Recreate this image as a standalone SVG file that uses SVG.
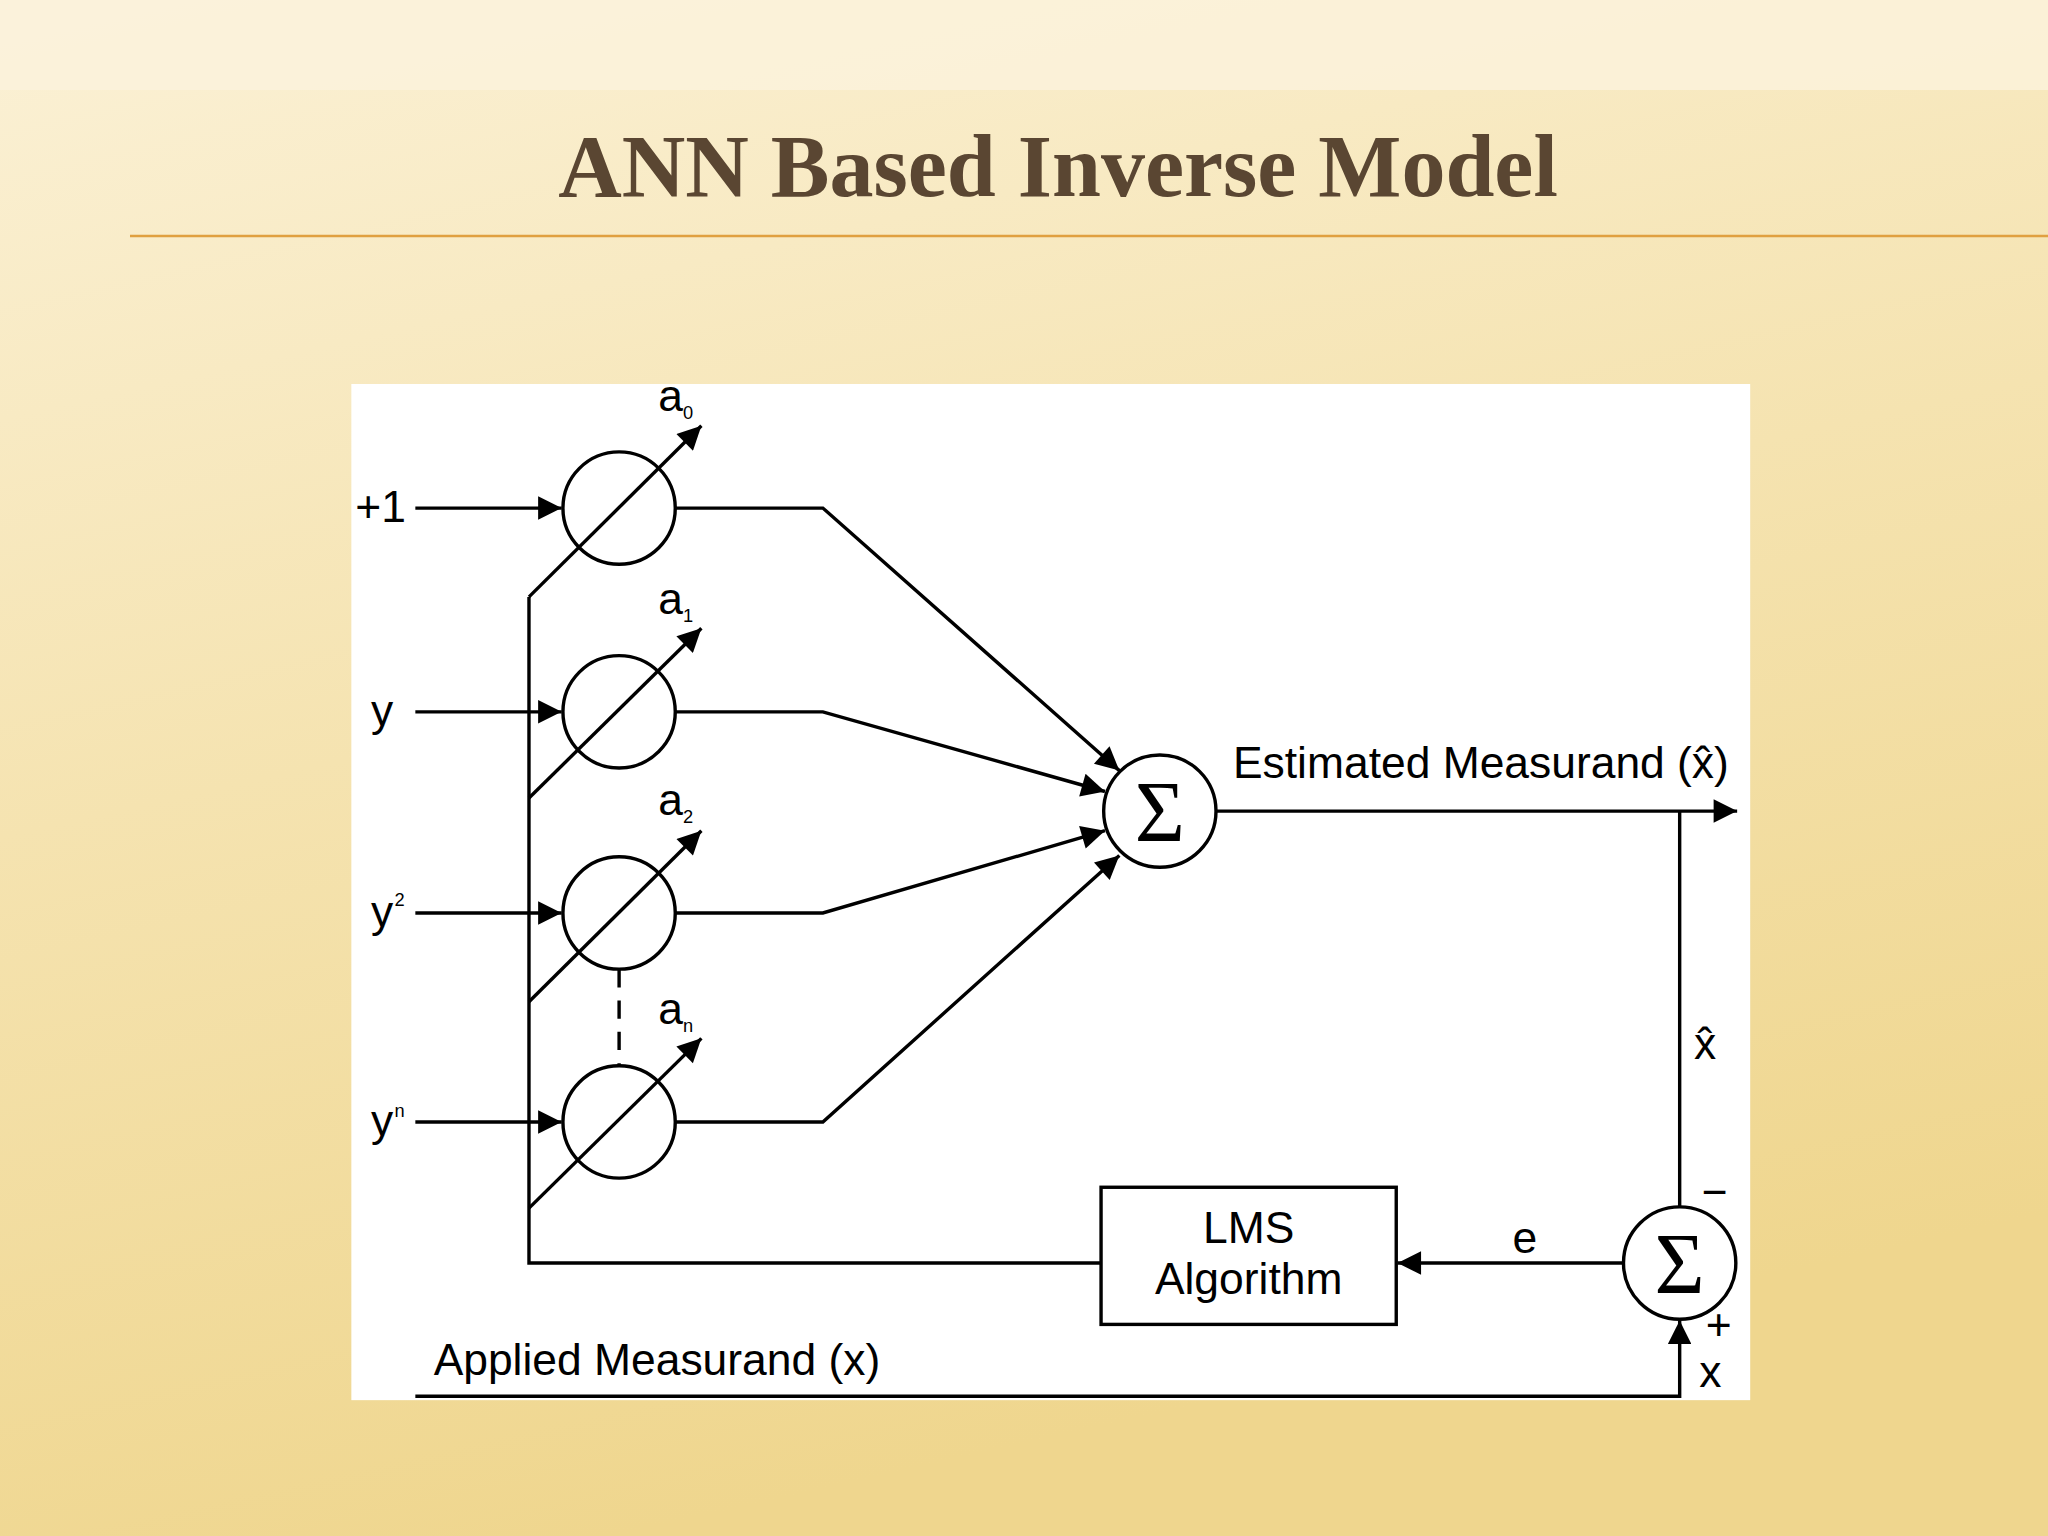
<svg xmlns="http://www.w3.org/2000/svg" width="2048" height="1536" viewBox="0 0 2048 1536">
<defs>
<linearGradient id="bg" x1="0" y1="0" x2="0.3" y2="1">
<stop offset="0" stop-color="#fbf1d6"/><stop offset="0.5" stop-color="#f5e3b0"/><stop offset="1" stop-color="#efd68e"/>
</linearGradient>
<marker id="ah2" viewBox="0 0 10 10" refX="10" refY="5" markerWidth="22" markerHeight="18" markerUnits="userSpaceOnUse" orient="auto"><path d="M0,0 L10,5 L0,10 Z" fill="#000"/></marker>
<style>
.l{stroke:#000;stroke-width:2.6;fill:none}
.c{stroke:#000;stroke-width:2.6;fill:#fff}
.t{font-family:"Liberation Sans",Arial,sans-serif;font-size:34px;fill:#000}
.s{font-family:"Liberation Sans",Arial,sans-serif;font-size:14px;fill:#000}
.sg{font-family:"Liberation Serif",serif;font-size:66px;fill:#000}
</style>
</defs>
<rect width="2048" height="1536" fill="url(#bg)"/>
<rect width="2048" height="90" fill="#fbf3dc" opacity="0.8"/>
<text x="1058" y="196" text-anchor="middle" font-family="Liberation Serif,serif" font-weight="bold" font-size="88" fill="#5a4632">ANN Based Inverse Model</text>
<line x1="130" y1="236" x2="2048" y2="236" stroke="#e0a040" stroke-width="2.5"/>
<g transform="scale(1.30612)">
<rect x="269" y="294" width="1071" height="778" fill="#fff"/>
<g id="connectors">
<line class="l" x1="318" y1="389" x2="430" y2="389" marker-end="url(#ah2)"/>
<line class="l" x1="318" y1="545" x2="430" y2="545" marker-end="url(#ah2)"/>
<line class="l" x1="318" y1="699" x2="430" y2="699" marker-end="url(#ah2)"/>
<line class="l" x1="318" y1="859" x2="430" y2="859" marker-end="url(#ah2)"/>
<polyline class="l" points="517,389 630,389 857,590" marker-end="url(#ah2)"/>
<polyline class="l" points="517,545 630,545 846,606" marker-end="url(#ah2)"/>
<polyline class="l" points="517,699 630,699 846,636" marker-end="url(#ah2)"/>
<polyline class="l" points="517,859 630,859 857,655" marker-end="url(#ah2)"/>
<line class="l" x1="474" y1="742" x2="474" y2="816" stroke-dasharray="14,10"/>
<line class="l" x1="931" y1="621" x2="1330" y2="621" marker-end="url(#ah2)"/>
<line class="l" x1="1286" y1="621" x2="1286" y2="924"/>
<line class="l" x1="1243" y1="967" x2="1070" y2="967" marker-end="url(#ah2)"/>
<polyline class="l" points="843,967 405,967 405,457"/>
<polyline class="l" points="318,1069 1286,1069 1286,1011" marker-end="url(#ah2)"/>
</g>
<g id="w0"><circle class="c" cx="474" cy="389" r="43"/><line class="l" x1="405" y1="457" x2="537" y2="326" marker-end="url(#ah2)"/><text class="t" x="504" y="315">a</text><text class="s" x="523" y="321">0</text></g>
<g id="w1"><circle class="c" cx="474" cy="545" r="43"/><line class="l" x1="405" y1="611" x2="537" y2="481" marker-end="url(#ah2)"/><text class="t" x="504" y="470">a</text><text class="s" x="523" y="476">1</text></g>
<g id="w2"><circle class="c" cx="474" cy="699" r="43"/><line class="l" x1="405" y1="767" x2="537" y2="636" marker-end="url(#ah2)"/><text class="t" x="504" y="624">a</text><text class="s" x="523" y="630">2</text></g>
<g id="wn"><circle class="c" cx="474" cy="859" r="43"/><line class="l" x1="405" y1="925" x2="537" y2="795" marker-end="url(#ah2)"/><text class="t" x="504" y="784">a</text><text class="s" x="523" y="790">n</text></g>
<g id="inputs">
<text class="t" x="272" y="400">+1</text>
<text class="t" x="284" y="556">y</text>
<text class="t" x="284" y="710">y</text><text class="s" x="302" y="694">2</text>
<text class="t" x="284" y="870">y</text><text class="s" x="302" y="855">n</text>
</g>
<g id="sum1"><circle class="c" cx="888" cy="621" r="43"/><text class="sg" x="888" y="644" text-anchor="middle">Σ</text></g>
<text class="t" x="944" y="596">Estimated Measurand (x̂)</text>
<g id="sum2"><circle class="c" cx="1286" cy="967" r="43"/><text class="sg" x="1286" y="990" text-anchor="middle">Σ</text></g>
<text class="t" x="1297" y="811">x̂</text>
<text class="t" x="1303" y="924">−</text>
<text class="t" x="1306" y="1026">+</text>
<text class="t" x="1301" y="1062">x</text>
<text class="t" x="1158" y="959">e</text>
<g id="lms"><rect class="c" x="843" y="909" width="226" height="105"/><text class="t" x="956" y="952" text-anchor="middle">LMS</text><text class="t" x="956" y="991" text-anchor="middle">Algorithm</text></g>
<text class="t" x="332" y="1053">Applied Measurand (x)</text>
</g>
</svg>
